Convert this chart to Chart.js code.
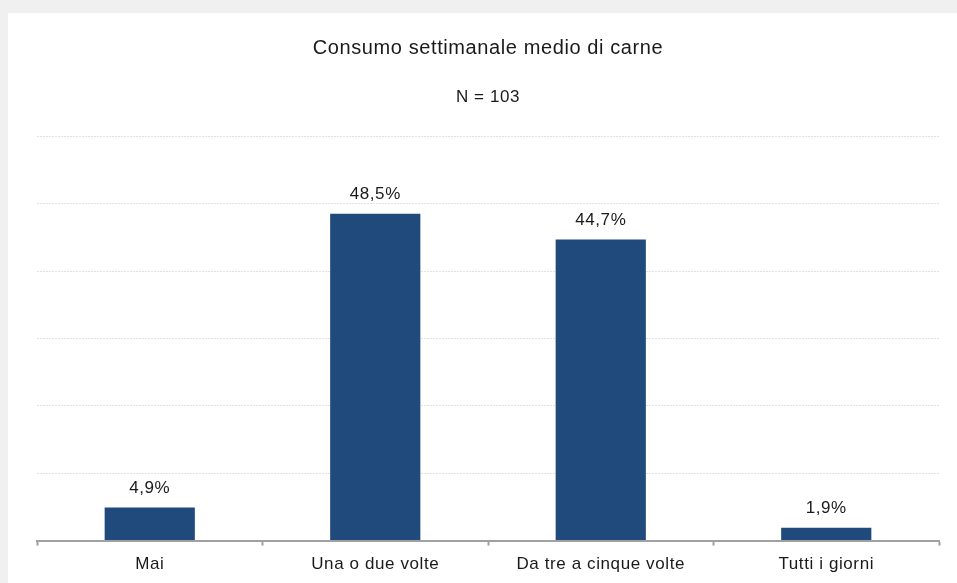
<!DOCTYPE html>
<html>
<head>
<meta charset="utf-8">
<script src="https://cdn.jsdelivr.net/npm/chart.js@4.4.0/dist/chart.umd.min.js"></script>
<style>
  html, body { margin: 0; padding: 0; background: #f0f0f0; overflow: hidden; }
  #wrap { position: absolute; left: 8px; top: 13px; width: 949px; height: 574px; background: #fff; }
</style>
</head>
<body>
<div id="wrap"><canvas id="chart"></canvas></div>
<script>
var categories = ["Mai", "Una o due volte", "Da tre a cinque volte", "Tutti i giorni"];
var percentages = [4.9, 48.5, 44.7, 1.9];
var yTicks = [0, 10, 20, 30, 40, 50, 60];

var FONT = "'Liberation Sans', Arial, sans-serif";

// slightly wider text spacing everywhere
var spacing = {
    id: 'spacing',
    beforeLayout: function(chart) { chart.ctx.letterSpacing = "0.6px"; },
    beforeDraw: function(chart) { chart.ctx.letterSpacing = "0.6px"; }
};

// writes "48,5%" above each bar
var valueLabels = {
    id: 'valueLabels',
    afterDatasetsDraw: function(chart) {
        var ctx = chart.ctx;
        var meta = chart.getDatasetMeta(0);
        ctx.save();
        ctx.font = "17px " + FONT;
        ctx.fillStyle = "#1a1a1a";
        ctx.textAlign = "center";
        ctx.textBaseline = "bottom";
        meta.data.forEach(function(bar, i) {
            var txt = percentages[i].toFixed(1).replace(".", ",") + "%";
            ctx.fillText(txt, bar.x, bar.y - 11);
        });
        ctx.restore();
    }
};

var ctx = document.getElementById("chart").getContext('2d');
var myChart = new Chart(ctx, {
    type: 'bar',
    data: {
        labels: categories,
        datasets: [{
            data: percentages,
            backgroundColor: "#214a7c",
            borderWidth: 0,
            barPercentage: 0.4,
            categoryPercentage: 1
        }]
    },
    plugins: [spacing, valueLabels],
    options: {
        responsive: true,
        maintainAspectRatio: false,
        animation: false,
        layout: { padding: { left: 29, right: 18, top: 23, bottom: 3 } },
        plugins: {
            legend: { display: false },
            tooltip: { enabled: false },
            title: {
                display: true,
                text: "Consumo settimanale medio di carne",
                color: "#1a1a1a",
                font: { family: FONT, size: 20, weight: 'normal' },
                padding: { top: 0, bottom: 27 }
            },
            subtitle: {
                display: true,
                text: "N = 103",
                color: "#1a1a1a",
                font: { family: FONT, size: 17, weight: 'normal' },
                padding: { top: 0, bottom: 29 }
            }
        },
        scales: {
            x: {
                grid: {
                    drawOnChartArea: false,
                    drawTicks: true,
                    tickLength: 5,
                    tickWidth: 2,
                    tickColor: "#a0a0a0",
                    offset: true
                },
                border: { display: true, color: "#a0a0a0", width: 2 },
                ticks: {
                    color: "#1a1a1a",
                    font: { family: FONT, size: 17 },
                    padding: 9
                }
            },
            y: {
                min: 0,
                max: 60,
                afterBuildTicks: function(axis) {
                    axis.ticks = yTicks.map(function(v) { return { value: v }; });
                },
                afterFit: function(axis) { axis.width = 0; },
                ticks: { display: false },
                border: { display: false, dash: [2, 1] },
                grid: {
                    color: function(c) { return c.tick.value === 0 ? "rgba(0,0,0,0)" : "#e2e2e2"; },
                    lineWidth: 1,
                    drawTicks: false
                }
            }
        }
    }
});
</script>
</body>
</html>
